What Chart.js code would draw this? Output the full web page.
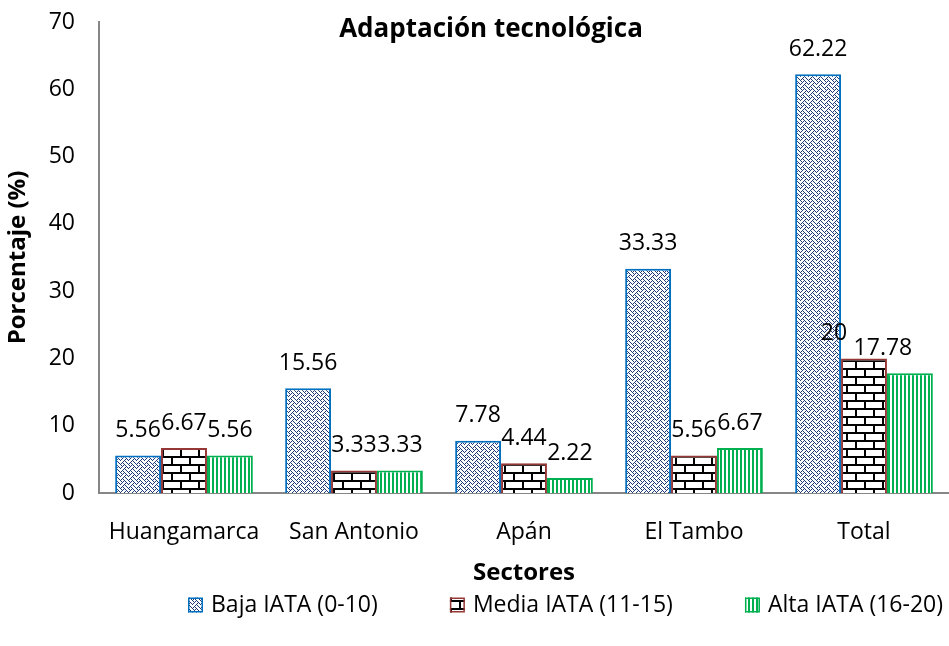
<!DOCTYPE html>
<html>
<head>
<meta charset="utf-8">
<script src="https://cdn.jsdelivr.net/npm/chart.js@4.4.1/dist/chart.umd.min.js"></script>
<style>
  html, body { margin: 0; padding: 0; background: #fff; }
  #wrap { width: 949px; height: 646px; position: relative; }
</style>
</head>
<body>
<div id="wrap"><canvas id="chart"></canvas></div>
<script>
// Datos: porcentaje de productores por nivel de adaptación tecnológica
const sectores = ['Huangamarca', 'San Antonio', 'Apán', 'El Tambo', 'Total'];
const bajaIATA = [5.56, 15.56, 7.78, 33.33, 62.22];
const mediaIATA = [6.67, 3.33, 4.44, 5.56, 20];
const altaIATA = [5.56, 3.33, 2.22, 6.67, 17.78];
const seriesNames = ['Baja IATA (0-10)', 'Media IATA (11-15)', 'Alta IATA (16-20)'];
const yMax = 70;
const yStep = 10;

const FONT = "'Open Sans', sans-serif";
const TXT = 23;

// tramas de relleno (estilo Excel)
function makePattern(w, h, draw) {
    const c = document.createElement('canvas');
    c.width = w; c.height = h;
    const g = c.getContext('2d');
    g.fillStyle = '#fff';
    g.fillRect(0, 0, w, h);
    draw(g);
    return g.createPattern(c, 'repeat');
}

// trama "weave" 8x8
const weaveBits = [0x88, 0x54, 0x22, 0x45, 0x88, 0x14, 0x22, 0x51];
const patBaja = makePattern(8, 8, g => {
    g.fillStyle = '#1f3a78';
    weaveBits.forEach((bits, y) => {
        for (let x = 0; x < 8; x++) if (bits & (0x80 >> x)) g.fillRect(x, y, 1, 1);
    });
});

// ladrillos
const patMedia = makePattern(18, 16, g => {
    g.fillStyle = '#000';
    g.fillRect(0, 0, 18, 2);
    g.fillRect(0, 8, 18, 2);
    g.fillRect(0, 2, 2, 6);
    g.fillRect(9, 10, 2, 6);
});

// rayas verticales
const patAlta = makePattern(4, 4, g => {
    g.fillStyle = '#00b050';
    g.fillRect(0, 0, 2, 4);
});

// etiquetas de valor sobre cada barra
const valueLabels = {
    id: 'valueLabels',
    afterDatasetsDraw(chart, args, opts) {
        const ctx = chart.ctx;
        ctx.save();
        ctx.font = TXT + 'px ' + FONT;
        ctx.fillStyle = '#000';
        ctx.textAlign = 'center';
        ctx.textBaseline = 'middle';
        chart.data.datasets.forEach((ds, di) => {
            chart.getDatasetMeta(di).data.forEach((bar, i) => {
                const dx = (opts.shift[di + '-' + i] || 0);
                ctx.fillText(String(ds.data[i]), bar.x + dx, bar.y - 25);
            });
        });
        ctx.restore();
    }
};

// título dentro del área de trazado
const innerTitle = {
    id: 'innerTitle',
    afterDraw(chart, args, opts) {
        const ctx = chart.ctx;
        ctx.save();
        ctx.font = 'bold 26px ' + FONT;
        ctx.fillStyle = '#000';
        ctx.textAlign = 'center';
        ctx.textBaseline = 'middle';
        ctx.fillText(opts.text, 491, 30);
        ctx.restore();
    }
};

// leyenda inferior
const bottomLegend = {
    id: 'bottomLegend',
    afterDraw(chart) {
        const ctx = chart.ctx;
        ctx.save();
        ctx.font = TXT + 'px ' + FONT;
        ctx.textBaseline = 'middle';
        const box = 15, gapText = 8, y = 605, left = 188, right = 943;
        const widths = chart.data.datasets.map(ds => box + gapText + ctx.measureText(ds.label).width);
        const total = widths.reduce((a, b) => a + b, 0);
        const gapItem = (right - left - total) / (widths.length - 1);
        let x = left;
        chart.data.datasets.forEach((ds, i) => {
            ctx.fillStyle = ds.backgroundColor;
            ctx.fillRect(x, y - box / 2, box, box);
            ctx.strokeStyle = ds.borderColor;
            ctx.lineWidth = 1.5;
            ctx.strokeRect(x + 0.75, y - box / 2 + 0.75, box - 1.5, box - 1.5);
            ctx.fillStyle = '#000';
            ctx.fillText(ds.label, x + box + gapText, y);
            x += widths[i] + gapItem;
        });
        ctx.restore();
    }
};

new Chart(document.getElementById('chart'), {
    type: 'bar',
    data: {
        labels: sectores,
        datasets: [
            { label: seriesNames[0], data: bajaIATA, backgroundColor: patBaja, borderColor: '#0070c0', borderWidth: 2 },
            { label: seriesNames[1], data: mediaIATA, backgroundColor: patMedia, borderColor: '#953735', borderWidth: 2 },
            { label: seriesNames[2], data: altaIATA, backgroundColor: patAlta, borderColor: '#00b050', borderWidth: 2 }
        ]
    },
    options: {
        responsive: true,
        maintainAspectRatio: false,
        animation: false,
        categoryPercentage: 0.81,
        barPercentage: 1,
        layout: { padding: { top: 22, right: 0, bottom: 58, left: 0 } },
        plugins: {
            legend: { display: false },
            tooltip: { enabled: false },
            innerTitle: { text: 'Adaptación tecnológica' },
            valueLabels: { shift: { '1-4': -30, '2-4': -27 } }
        },
        scales: {
            x: {
                grid: { display: false, drawTicks: false },
                border: { display: true, color: '#868686', width: 2 },
                ticks: { color: '#000', font: { family: FONT, size: TXT }, padding: 26, maxRotation: 0 },
                title: { display: true, text: 'Sectores', color: '#000', font: { family: FONT, size: 24, weight: 'bold' }, padding: { top: 8, bottom: 0 } },
                afterFit(scale) { scale.height = 95; }
            },
            y: {
                min: 0,
                max: yMax,
                grid: { display: false, drawTicks: false },
                border: { display: true, color: '#868686', width: 2 },
                ticks: { stepSize: yStep, color: '#000', font: { family: FONT, size: TXT }, padding: 24 },
                title: { display: true, text: 'Porcentaje (%)', color: '#000', font: { family: FONT, size: 24, weight: 'bold' }, padding: { top: 4, bottom: 0 } },
                afterFit(scale) {
                    scale.width = 99;
                    scale.paddingTop = 0;
                    scale.paddingBottom = 0;
                }
            }
        }
    },
    plugins: [valueLabels, innerTitle, bottomLegend]
});
</script>
</body>
</html>
